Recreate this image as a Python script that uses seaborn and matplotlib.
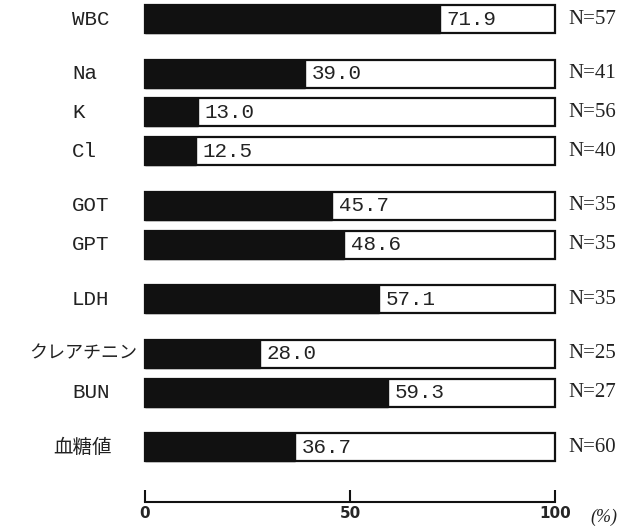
import matplotlib
matplotlib.use("Agg")
import matplotlib.pyplot as plt
import numpy as np
import pandas as pd
import seaborn as sns

# data
items = ["WBC", "Na", "K", "Cl", "GOT", "GPT", "LDH", "クレアチニン", "BUN", "血糖値"]
pct = [71.9, 39.0, 13.0, 12.5, 45.7, 48.6, 57.1, 28.0, 59.3, 36.7]
n_cases = [57, 41, 56, 40, 35, 35, 35, 25, 27, 60]
group = [0, 1, 1, 1, 2, 2, 3, 4, 4, 5]  # rows are drawn in blocks with a gap between

df = pd.DataFrame({"item": items, "pct": pct, "n": n_cases, "group": group})
df["pos"] = np.arange(len(df)) + 0.4 * df["group"]
df["full"] = 100.0

sns.set_style("white")
plt.rcParams["font.family"] = ["Liberation Mono", "Noto Sans CJK JP", "DejaVu Sans"]

fig = plt.figure(figsize=(6.27, 5.28), dpi=100)
ax = fig.add_axes([145 / 627, 26 / 528, 410 / 627, 502 / 528])

# white frame for 100 %, then the black part
sns.barplot(data=df, x="full", y="pos", orient="h", native_scale=True, width=0.72,
            color="white", edgecolor="#111111", linewidth=1.6, errorbar=None, ax=ax)
sns.barplot(data=df, x="pct", y="pos", orient="h", native_scale=True, width=0.72,
            color="#111111", edgecolor="#111111", linewidth=1.0, errorbar=None, ax=ax)
for p in ax.patches:
    p.set_clip_on(False)

ax.set_xlim(0, 100)
ax.set_ylim(df["pos"].max() + 1.41, -0.49)

for _, r in df.iterrows():
    ax.text(r["pct"] + 1.6, r["pos"], f"{r['pct']:.1f}", va="center", ha="left",
            fontsize=15, family="Liberation Mono", color="#222222")
    ax.text(103.2, r["pos"], f"N={r['n']}", va="center", ha="left",
            fontsize=15, family="Liberation Serif", color="#222222")
    if r["item"] == "クレアチニン":
        ax.text(-0.02, r["pos"], r["item"], transform=ax.get_yaxis_transform(),
                ha="right", va="center", fontsize=13, family=["Noto Sans CJK JP"],
                color="#222222")
    elif r["item"] == "血糖値":
        ax.text(-0.08, r["pos"], r["item"], transform=ax.get_yaxis_transform(),
                ha="right", va="center", fontsize=14, family=["Noto Sans CJK JP"],
                color="#222222")
    else:
        ax.text(-0.178, r["pos"], r["item"], transform=ax.get_yaxis_transform(),
                ha="left", va="center", fontsize=15, family="Liberation Mono",
                color="#222222")

ax.set_yticks([])
ax.set_ylabel("")
ax.set_xlabel("")
ax.set_xticks([0, 50, 100])
ax.set_xticklabels(["0", "50", "100"], fontsize=11, fontweight="bold",
                   family="DejaVu Sans")
ax.tick_params(axis="x", direction="in", length=9, width=1.5, pad=3, color="#111111",
               bottom=True)
for s in ["top", "left", "right"]:
    ax.spines[s].set_visible(False)
ax.spines["bottom"].set_linewidth(1.5)
ax.spines["bottom"].set_color("#111111")

fig.text(604 / 627, 1 - 517 / 528, "(%)", ha="center", va="center", fontsize=13,
         style="italic", family="Liberation Serif", color="#222222")

fig.savefig("out.png", dpi=100)
